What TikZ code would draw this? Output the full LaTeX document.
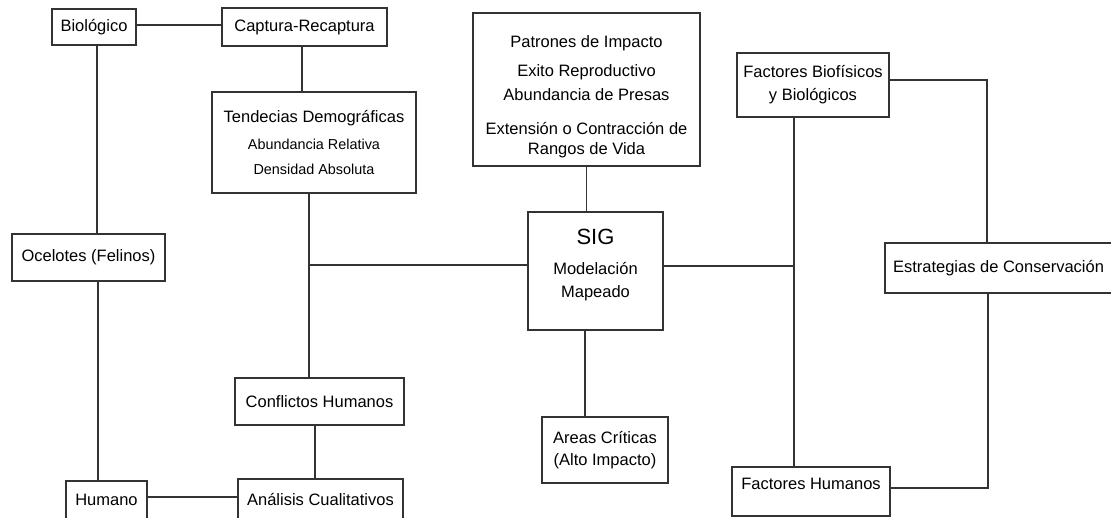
\documentclass[tikz,border=0pt]{standalone}
\usepackage{fontspec}
\setmainfont{Liberation Sans}
\begin{document}
\begin{tikzpicture}[x=1pt,y=-1pt,
  box/.style={draw=lc, line width=1.2pt, fill=white, inner sep=0pt, outer sep=0pt,
    align=center, font=\fontsize{16.5}{20}\selectfont},
  conn/.style={draw=lc, line width=1.2pt}]
\colorlet{lc}{black!80}
\fill[white] (0,0) rectangle (1111,517);
\useasboundingbox (0,0) rectangle (1111,517);

\node[box, minimum width=84pt, minimum height=36pt] (bio) at (94,27) {Biológico};
\node[box, minimum width=165pt, minimum height=38pt] (cap) at (304.5,27) {Captura-Recaptura};
\node[box, minimum width=204pt, minimum height=101pt] (tend) at (314,142.5)
  {Tendecias Demográficas\\[7pt]{\fontsize{14.4}{17}\selectfont Abundancia Relativa}\\[5pt]{\fontsize{14.4}{17}\selectfont Densidad Absoluta}};
\node[box, minimum width=227pt, minimum height=153pt] (pat) at (586.5,89.5)
  {\rule{0pt}{26pt}Patrones de Impacto\\[9pt] Exito Reproductivo\\[4pt] Abundancia de Presas\\[14pt] Extensión o Contracción de\\ Rangos de Vida};
\node[box, minimum width=152pt, minimum height=64pt] (fbio) at (813,85)
  {Factores Biofísicos\\[3pt] y Biológicos};
\node[box, minimum width=227pt, minimum height=50pt] (est) at (998.5,268) {Estrategias de Conservación};
\node[box, minimum width=135pt, minimum height=118pt] (sig) at (595.5,271)
  {\fontsize{22}{24}\selectfont SIG\\[10pt]{\fontsize{16.5}{20}\selectfont Modelación}\\[3pt]{\fontsize{16.5}{20}\selectfont Mapeado\rule[-16pt]{0pt}{0pt}}};
\node[box, minimum width=153pt, minimum height=47pt] (ocel) at (88.5,257.5) {Ocelotes (Felinos)};
\node[box, minimum width=169pt, minimum height=47pt] (conf) at (319.5,401.5) {Conflictos Humanos};
\node[box, minimum width=126pt, minimum height=66pt] (areas) at (605,450) {Areas Críticas\\[2pt] (Alto Impacto)};
\node[box, minimum width=81pt, minimum height=38pt] (hum) at (106.5,500) {Humano};
\node[box, minimum width=165pt, minimum height=40pt] (ana) at (320.5,499) {Análisis Cualitativos};
\node[box, minimum width=158pt, minimum height=49pt] (fhum) at (811,491.5) {Factores Humanos\rule[-16pt]{0pt}{0pt}};

\coordinate (jl) at (309,265);
\coordinate (jr) at (794,266);

\draw[conn] ([yshift=2pt]bio.east) -- ([yshift=2pt]bio.east -| cap.west);
\draw[conn] ([xshift=3pt]bio.south) -- ([xshift=3pt]bio.south |- ocel.north);
\draw[conn] ([xshift=9.5pt]ocel.south) -- ([xshift=9.5pt]ocel.south |- hum.north);
\draw[conn] ([yshift=3pt]hum.east) -- ([yshift=3pt]hum.east -| ana.west);
\draw[conn] ([xshift=-2.5pt]cap.south) -- ([xshift=-2.5pt]cap.south |- tend.north);
\draw[conn] ([xshift=-5pt]tend.south) -- ([xshift=-5pt]tend.south |- conf.north);
\draw[conn] (jl) -- (jl -| sig.west);
\draw[conn] ([xshift=-4.5pt]conf.south) -- ([xshift=-4.5pt]conf.south |- ana.north);
\draw[conn] (pat.south) -- (pat.south |- sig.north);
\draw[conn] ([xshift=-10.5pt]sig.south) -- ([xshift=-10.5pt]sig.south |- areas.north);
\draw[conn] (jr -| sig.east) -- (jr);
\draw[conn] ([xshift=-19pt]fbio.south) -- ([xshift=-19pt]fbio.south |- fhum.north);
\draw[conn] ([yshift=5pt]fbio.east) -| ([xshift=-11.5pt]est.north);
\draw[conn] ([xshift=-10.5pt]est.south) |- ([yshift=3.5pt]fhum.east);
\end{tikzpicture}
\end{document}
